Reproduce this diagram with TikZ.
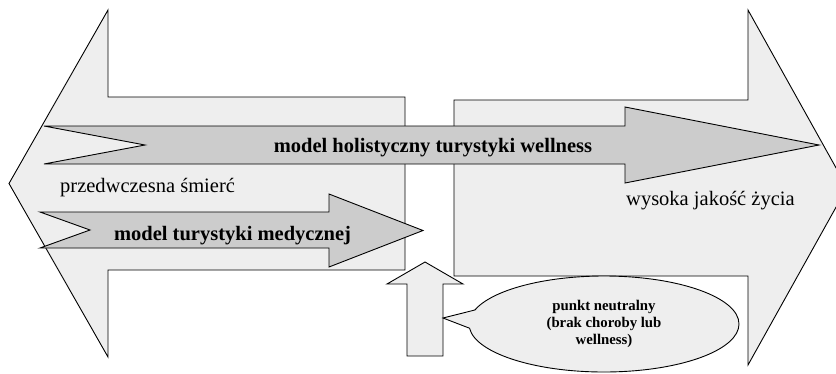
\documentclass[tikz,border=0pt]{standalone}
\usepackage{fontspec}
\setmainfont{Liberation Serif}
\usetikzlibrary{shapes.callouts}
\definecolor{lightfill}{RGB}{238,238,238}
\definecolor{darkfill}{RGB}{204,204,204}
\begin{document}
\begin{tikzpicture}
	[x=1pt,y=-1pt,
	 bigarrow/.style={draw,line width=0.9pt,fill=lightfill},
	 modelarrow/.style={draw,line width=0.9pt,fill=darkfill},
	 endlabel/.style={font=\fontsize{20.5}{24}\selectfont,inner sep=0pt,anchor=base west},
	 modellabel/.style={font=\fontsize{20.5}{24}\selectfont\bfseries,inner sep=0pt,anchor=base},
	 bubble/.style={ellipse callout,draw,line width=0.9pt,fill=lightfill,minimum width=270pt,minimum height=96pt,
	 	inner sep=1pt,align=center,callout pointer arc=22,font=\fontsize{14.8}{17}\selectfont\bfseries}]
	\clip (0,0) rectangle (836,373);
	\draw[bigarrow] (405,97)--(108,97)--(108,10)--(9,183.5)--(108,357)--(108,270)--(405,270)--cycle;
	\draw[bigarrow] (454,100)--(748,100)--(748,10)--(847,187.5)--(748,365)--(748,276)--(454,276)--cycle;
	\draw[modelarrow] (44,126)--(625,126)--(625,107)--(819,145)--(625,183)--(625,164)--(44,164)--(145,145)--cycle;
	\draw[modelarrow] (40,212)--(329,212)--(329,194)--(423,230.5)--(329,267)--(329,248)--(40,248)--(90,230)--cycle;
	\draw[bigarrow] (425,262)--(463,284)--(443,284)--(443,356)--(407,356)--(407,284)--(387,284)--cycle;
	\coordinate (neutral) at (443,318);
	\node[bubble,callout absolute pointer=(neutral),name=bubble] at (604,324) {punkt neutralny\\(brak choroby lub\\wellness)};
	\node[endlabel,name=death] at (60,192) {przedwczesna śmierć};
	\node[endlabel,name=life] at (626,205) {wysoka jakość życia};
	\node[modellabel,name=holistic] at (433,152) {model holistyczny turystyki wellness};
	\node[modellabel,name=medical] at (232.5,240) {model turystyki medycznej};
\end{tikzpicture}
\end{document}
